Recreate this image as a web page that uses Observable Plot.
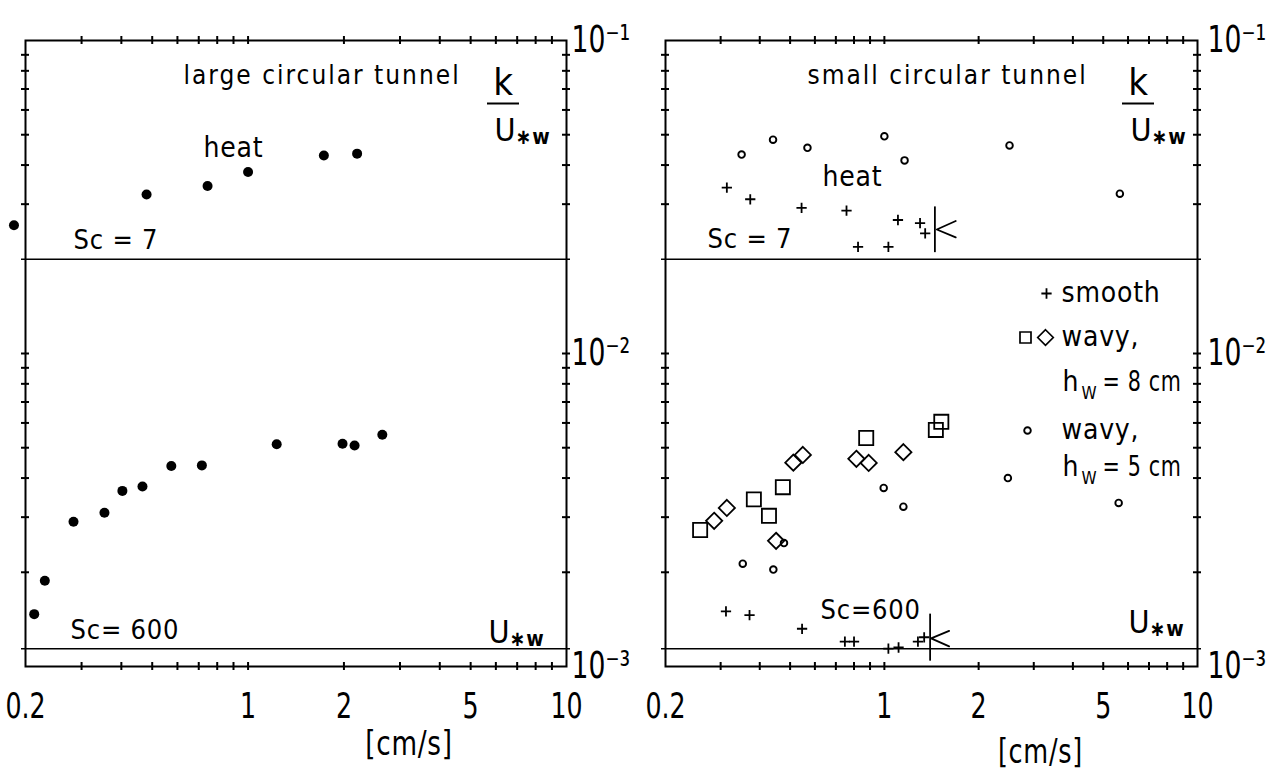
<!DOCTYPE html>
<html><head><meta charset="utf-8">
<script src="https://cdn.jsdelivr.net/npm/d3@7"></script>
<script src="https://cdn.jsdelivr.net/npm/@observablehq/plot@0.6"></script>
<style>
html,body{margin:0;padding:0;background:#fff;}
#wrap{display:flex;width:1280px;height:773px;overflow:hidden;}
#wrap svg{display:block;overflow:visible;}
</style></head><body><div id="wrap"></div>
<script>
// ---------- axes / ticks ----------
const xTickLabels = [0.2, 1, 2, 5, 10];
const xMinorTicks = [0.3, 0.4, 0.5, 0.6, 0.7, 0.8, 0.9, 1, 2, 3, 4, 5, 6, 7, 8, 9];
const yMinorTicks = [0.002, 0.003, 0.004, 0.005, 0.006, 0.007, 0.008, 0.009, 0.01,
                     0.03, 0.04, 0.05, 0.06, 0.07, 0.08, 0.09];
const yTickLabels = [0.1, 0.01, 0.001];
const yTickText = ["10\u207B\u00B9", "10\u207B\u00B2", "10\u207B\u00B3"];
const scLineValues = [0.02, 0.00114];   // Sc = 7 and Sc = 600 reference lines

// ---------- left panel: large circular tunnel (filled dots) ----------
const largeHeatX = [0.184, 0.480, 0.746, 1.00, 1.73, 2.20];
const largeHeatY = [0.0257, 0.0322, 0.0343, 0.0380, 0.0429, 0.0435];
const largeMassX = [0.213, 0.230, 0.283, 0.354, 0.403, 0.466, 0.574, 0.716, 1.23, 1.98, 2.16, 2.64];
const largeMassY = [0.00147, 0.00188, 0.00290, 0.00310, 0.00364, 0.00376, 0.00437, 0.00439, 0.00513, 0.00515, 0.00508, 0.00550];

// ---------- right panel: small circular tunnel ----------
const smoothHeatX = [0.314, 0.373, 0.544, 0.757, 0.824, 1.03, 1.105, 1.30, 1.35];
const smoothHeatY = [0.0339, 0.0311, 0.0292, 0.0286, 0.0219, 0.0219, 0.0267, 0.0261, 0.0242];
const wavy5HeatX = [0.350, 0.441, 0.568, 1.00, 1.16, 2.51, 5.65];
const wavy5HeatY = [0.0432, 0.0482, 0.0454, 0.0494, 0.0414, 0.0462, 0.0324];
const smoothMassX = [0.312, 0.371, 0.546, 0.748, 0.800, 1.03, 1.11, 1.28, 1.34];
const smoothMassY = [0.00150, 0.00146, 0.00132, 0.00120, 0.00120, 0.00114, 0.00115, 0.00120, 0.00124];
const wavy8SquareX = [0.258, 0.383, 0.428, 0.474, 0.875, 1.46, 1.52];
const wavy8SquareY = [0.00273, 0.00342, 0.00303, 0.00374, 0.00537, 0.00570, 0.00605];
const wavy8DiamondX = [0.286, 0.314, 0.451, 0.512, 0.549, 0.814, 0.891, 1.15];
const wavy8DiamondY = [0.00292, 0.00321, 0.00252, 0.00448, 0.00474, 0.00461, 0.00447, 0.00484];
const wavy5MassX = [0.353, 0.442, 0.478, 0.995, 1.15, 2.48, 5.60];
const wavy5MassY = [0.00213, 0.00204, 0.00248, 0.00372, 0.00324, 0.00400, 0.00333];

// "K" markers (vertical bar + chevron) in right panel
const kBarX = [1.45, 1.40];
const kBarY1 = [0.0210, 0.00104];
const kBarY2 = [0.0294, 0.00147];
const kChevTopX = [1.69, 1.47, 1.69];
const kChevTopY = [0.0265, 0.0249, 0.0235];
const kChevBotX = [1.61, 1.41, 1.61];
const kChevBotY = [0.00130, 0.00123, 0.00116];

// ---------- helpers ----------
const zip = (xs, ys) => xs.map((x, i) => ({x, y: ys[i]}));
const FONT = "'DejaVu Sans Condensed', 'DejaVu Sans', sans-serif";
const W = 640, H = 773, MT = 40, MB = 107;
const FH = H - MT - MB;

function label(str, dx, dy, size, extra = {}) {
  return Plot.text([str], {frameAnchor: "top-left", dx, dy, text: d => d, textAnchor: "start",
    lineAnchor: "middle", fontSize: size, fill: "black", ...extra});
}

function commonMarks(FW, yLabelDx) {
  return [
    Plot.frame({stroke: "black", strokeWidth: 2}),
    // crossing ticks on all four sides
    Plot.ruleX(xMinorTicks, {x: d => d, insetTop: FH - 4, insetBottom: -4, strokeWidth: 2}),
    Plot.ruleX(xMinorTicks, {x: d => d, insetTop: -4, insetBottom: FH - 4, strokeWidth: 2}),
    Plot.ruleY(yMinorTicks, {y: d => d, insetLeft: -4, insetRight: FW - 4, strokeWidth: 2}),
    Plot.ruleY(yMinorTicks, {y: d => d, insetLeft: FW - 4, insetRight: -4, strokeWidth: 2}),
    // Sc reference lines
    Plot.ruleY(scLineValues, {y: d => d, insetLeft: -4, insetRight: -4, strokeWidth: 1.6}),
    // x tick labels
    Plot.text(xTickLabels, {x: d => d, frameAnchor: "bottom", dy: 40, text: d => String(d),
      fontSize: 36, lineAnchor: "middle", fill: "black"}),
    // y tick labels (right side) 10^-n as one text with superscript characters
    Plot.text(yTickLabels, {y: d => d, frameAnchor: "right", dx: yLabelDx, text: (d, i) => yTickText[i],
      textAnchor: "start", lineAnchor: "middle", fontSize: 37, fill: "black"})
  ];
}

function kOverU(dxK, dxU, FW) {
  return [
    label("k", dxK, 42, 38, {textAnchor: "middle"}),
    Plot.ruleY([yTickLabels[0]], {y: d => d, dy: 63, insetLeft: dxK - 16, insetRight: FW - dxK - 16, strokeWidth: 2}),
    label("U", dxU, 90, 32),
    label("\u2217w", dxU + 21, 97, 21, {fontWeight: "bold"})
  ];
}

function makePlot(FW, ML, marks) {
  return Plot.plot({
    width: W, height: H,
    marginLeft: ML, marginRight: W - ML - FW, marginTop: MT, marginBottom: MB,
    x: {type: "log", domain: [0.2, 10], axis: null},
    y: {type: "log", domain: [0.001, 0.1], axis: null},
    style: {fontFamily: FONT, background: "white", color: "black", overflow: "visible"},
    marks
  });
}

// ---------- left panel ----------
const FWL = 541;
const left = makePlot(FWL, 25, [
  ...commonMarks(FWL, 5),
  Plot.dot(zip(largeHeatX, largeHeatY), {x: "x", y: "y", r: 5, fill: "black", stroke: "none"}),
  Plot.dot(zip(largeMassX, largeMassY), {x: "x", y: "y", r: 5, fill: "black", stroke: "none"}),
  label("large circular tunnel", 158, 35, 26),
  ...kOverU(478, 469, FWL),
  label("heat", 178, 108, 28),
  label("Sc = 7", 48, 200, 27),
  label("Sc= 600", 45, 590, 27),
  label("U", 463, 592, 32),
  label("\u2217w", 484, 599, 21, {fontWeight: "bold"}),
  Plot.text(["[cm/s]"], {x: 3.2, frameAnchor: "bottom", dy: 78, text: d => d, fontSize: 34,
    lineAnchor: "middle", fill: "black"})
]);

// ---------- right panel ----------
const FWR = 532;
const right = makePlot(FWR, 25, [
  ...commonMarks(FWR, 10),
  Plot.dot(zip(wavy5HeatX, wavy5HeatY), {x: "x", y: "y", r: 3.3, symbol: "circle", stroke: "black", strokeWidth: 1.9, fill: "none"}),
  Plot.dot(zip(smoothHeatX, smoothHeatY), {x: "x", y: "y", r: 3.4, symbol: "plus", stroke: "black", strokeWidth: 1.8}),
  Plot.dot(zip(wavy8SquareX, wavy8SquareY), {x: "x", y: "y", r: 9, symbol: "square2", stroke: "black", strokeWidth: 1.8, fill: "none"}),
  Plot.dot(zip(wavy8DiamondX, wavy8DiamondY), {x: "x", y: "y", r: 7.3, symbol: "diamond2", stroke: "black", strokeWidth: 1.8, fill: "none"}),
  Plot.dot(zip(wavy5MassX, wavy5MassY), {x: "x", y: "y", r: 3.3, symbol: "circle", stroke: "black", strokeWidth: 1.9, fill: "none"}),
  Plot.dot(zip(smoothMassX, smoothMassY), {x: "x", y: "y", r: 3.4, symbol: "plus", stroke: "black", strokeWidth: 1.8}),
  // K markers
  Plot.ruleX(kBarX.map((x, i) => ({x, y1: kBarY1[i], y2: kBarY2[i]})), {x: "x", y1: "y1", y2: "y2", strokeWidth: 1.8}),
  Plot.line(zip(kChevTopX, kChevTopY), {x: "x", y: "y", strokeWidth: 1.8, curve: "linear"}),
  Plot.line(zip(kChevBotX, kChevBotY), {x: "x", y: "y", strokeWidth: 1.8, curve: "linear"}),
  // texts
  label("small circular tunnel", 142, 35, 26),
  ...kOverU(473, 465, FWR),
  label("heat", 157, 137, 28),
  label("Sc = 7", 42, 199, 27),
  label("Sc=600", 155, 570, 27),
  label("U", 463, 582, 32),
  label("\u2217w", 484, 589, 21, {fontWeight: "bold"}),
  // legend
  Plot.dot([0], {frameAnchor: "top-left", dx: 381, dy: 253, r: 3.4, symbol: "plus", stroke: "black", strokeWidth: 1.8}),
  label("smooth", 396, 253, 28),
  Plot.dot([0], {frameAnchor: "top-left", dx: 360, dy: 297, r: 7, symbol: "square2", stroke: "black", strokeWidth: 1.7, fill: "none"}),
  Plot.dot([0], {frameAnchor: "top-left", dx: 380, dy: 297, r: 7, symbol: "diamond2", stroke: "black", strokeWidth: 1.7, fill: "none"}),
  label("wavy,", 396, 297, 28),
  label("h", 397, 342, 28),
  label("W", 416, 353, 17),
  label("= 8 cm", 437, 342, 28),
  Plot.dot([0], {frameAnchor: "top-left", dx: 362, dy: 390, r: 3.3, symbol: "circle", stroke: "black", strokeWidth: 1.9, fill: "none"}),
  label("wavy,", 396, 390, 28),
  label("h", 397, 427, 28),
  label("W", 416, 438, 17),
  label("= 5 cm", 437, 427, 28),
  Plot.text(["[cm/s]"], {x: 3.15, frameAnchor: "bottom", dy: 86, text: d => d, fontSize: 33,
    lineAnchor: "middle", fill: "black"})
]);

const wrap = document.getElementById("wrap");
wrap.appendChild(left);
wrap.appendChild(right);

// typographic adjustments: narrow technical lettering
const numeric = /^(0\.2|1|2|5|10)$/;
const titles = new Set(["large circular tunnel", "small circular tunnel"]);
d3.selectAll("#wrap svg text").each(function () {
  const t = this.textContent;
  let f = null;
  if (numeric.test(t)) f = 0.78;
  else if (yTickText.includes(t)) f = 0.8;
  else if (t === "[cm/s]") f = 0.86;
  else if (t.startsWith("= ")) f = 0.82;
  if (titles.has(t)) this.style.letterSpacing = "2px";
  else if (!f || t === "[cm/s]" || t.startsWith("= ")) this.style.letterSpacing = "0.8px";
  if (f) {
    const len = this.getComputedTextLength();
    this.setAttribute("textLength", (len * f).toFixed(1));
    this.setAttribute("lengthAdjust", "spacingAndGlyphs");
  }
});
</script>
</body></html>
